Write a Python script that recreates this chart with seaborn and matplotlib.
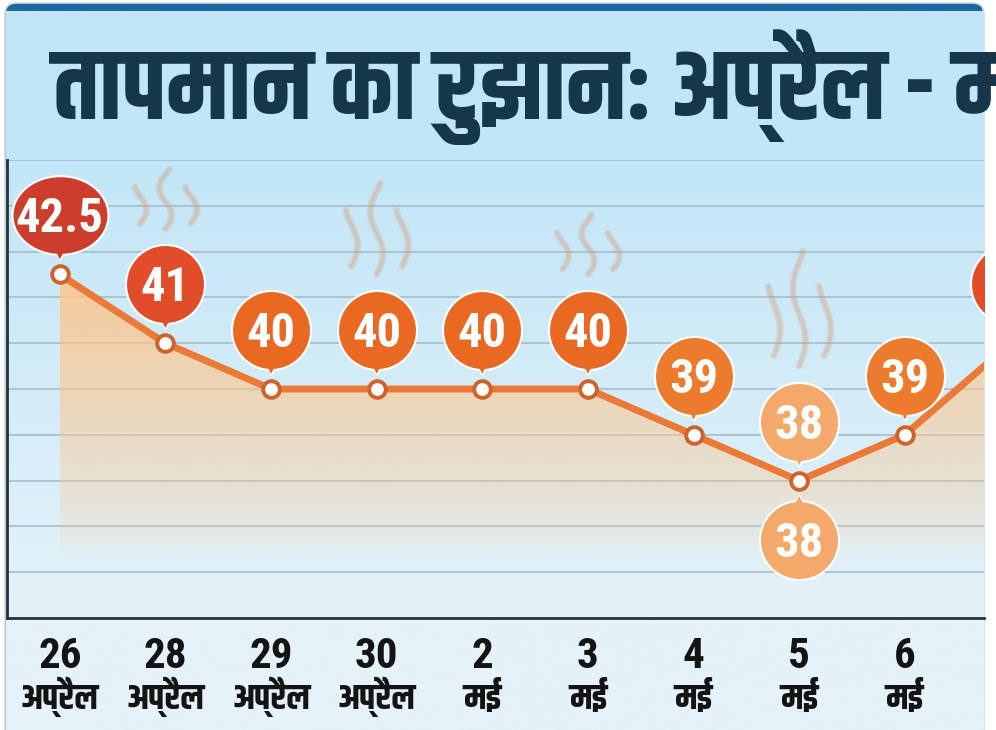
import numpy as np
import pandas as pd
import matplotlib
matplotlib.use("Agg")
import matplotlib.pyplot as plt
import matplotlib.transforms as mtransforms
from matplotlib.patches import FancyBboxPatch
from matplotlib.path import Path
from matplotlib.colors import to_rgb
import seaborn as sns

# data
day_labels = ["26", "28", "29", "30", "2", "3", "4", "5", "6", "7"]
month_labels = ["अप्रैल", "अप्रैल", "अप्रैल", "अप्रैल", "मई", "मई", "मई", "मई", "मई", "मई"]
temps = [42.5, 41, 40, 40, 40, 40, 39, 38, 39, 41]
low_bubble_days = ["5"]          # this day also has a bubble below the point
steam_days = ["28", "30", "3", "5"]
steam_heights = [1.3, 2.0, 1.3, 2.5]
title = "तापमान का रुझान: अप्रैल - मई"

sns.set_theme(style="white")
plt.rcParams["font.family"] = ["Roboto Condensed", "Khand", "DejaVu Sans"]

df = pd.DataFrame({"pos": np.arange(len(temps)), "temp": temps,
                   "day": day_labels, "month": month_labels})

W, H = 996, 730
fig = plt.figure(figsize=(W / 100, H / 100), dpi=100)
fig.patch.set_facecolor("white")

# card background (pixel coordinates)
bg = fig.add_axes([0, 0, 1, 1], zorder=-5)
bg.add_patch(FancyBboxPatch((5, 3), 979, 760, boxstyle="round,pad=0,rounding_size=11",
                            fc="#1f67a2", ec="#d3dce1", lw=1.2, zorder=0))
ys = np.linspace(11, H, 400)
t = np.clip((ys - 160) / (618 - 160), 0, 1)[:, None]
grad = np.array(to_rgb("#c2e6f7")) * (1 - t) + np.array(to_rgb("#e5f2f9")) * t
bg.imshow(grad[:, None, :], extent=(5.6, 983.4, H, 11), aspect="auto", zorder=1)
bg.set_xlim(0, W)
bg.set_ylim(H, 0)
bg.axis("off")
bg.text(53, 119, title, fontsize=72, family=["Khand", "DejaVu Sans"], weight="bold",
        color="#16374b", va="baseline", ha="left", zorder=3)

# main chart
ax = fig.add_axes([7 / W, 1 - 618 / H, (984 - 7) / W, (618 - 160) / H])
ax.patch.set_alpha(0)
ax.set_axisbelow(True)

# gradient fill under the line, fading out towards the bottom
poly = ax.fill_between(df["pos"], df["temp"], 35, facecolor="none", edgecolor="none")
top_v = max(temps)
gy = np.linspace(top_v, 35, 256)
g = np.zeros((256, 1, 4))
g[..., :3] = to_rgb("#ffc68a")
g[:, 0, 3] = np.clip((gy - 36.3) / (top_v - 36.3), 0, 1) ** 0.7 * 0.85
im = ax.imshow(g, extent=(0, len(temps) - 1, 35, top_v), aspect="auto",
               origin="upper", zorder=1)
im.set_clip_path(poly.get_paths()[0], transform=ax.transData)

sns.lineplot(data=df, x="pos", y="temp", ax=ax, color="#ec7a36", linewidth=5,
             marker="o", markersize=12, markerfacecolor="white",
             markeredgecolor="#cf632b", markeredgewidth=2.8, zorder=3)

# steam wisps above some points
for d, h in zip(steam_days, steam_heights):
    i = day_labels.index(d)
    base = temps[i] + 2.5
    for dx, frac in [(-0.24, 0.7), (0.0, 1.0), (0.24, 0.7)]:
        lo = base + h * (1 - frac) * 0.3
        hi = base + h * frac
        yy = np.linspace(lo, hi, 60)
        xx = i + dx + 0.06 * np.sin((yy - lo) / h * 2 * np.pi * 1.1)
        ax.plot(xx, yy, color="#e0a07c", alpha=0.28, lw=5,
                solid_capstyle="round", zorder=2)
        ax.plot(xx, yy, color="#c9a79a", alpha=0.3, lw=2.5,
                solid_capstyle="round", zorder=2)


def bubble_color(v):
    if v >= 42:
        return "#cd3d2b"
    if v >= 41:
        return "#e14d28"
    if v >= 40:
        return "#e96922"
    if v >= 39:
        return "#ec7b2d"
    return "#f4a96a"


theta = np.linspace(0, 2 * np.pi, 120)
ellipse = Path(np.c_[np.cos(theta) * 1.22, np.sin(theta)], closed=True)
x_right = 8.75


def bubble(x, v, side):
    sgn = 1 if side == "up" else -1
    c_tr = mtransforms.offset_copy(ax.transData, fig=fig, y=59 * sgn, units="dots")
    p_tr = mtransforms.offset_copy(ax.transData, fig=fig, y=22 * sgn, units="dots")
    t_tr = mtransforms.offset_copy(ax.transData, fig=fig, y=59 * sgn - 17, units="dots")
    label = f"{v:g}"
    col = bubble_color(v)
    tri = "v" if side == "up" else "^"
    ax.scatter([x], [v], transform=p_tr, marker=tri, s=110, c=col,
               edgecolors="white", linewidths=1.5, zorder=4)
    if len(label) > 2:
        ax.scatter([x], [v], transform=c_tr, marker=ellipse, s=(96 * 0.72) ** 2, c=col,
                   edgecolors="white", linewidths=1.5, zorder=5)
    else:
        ax.scatter([x], [v], transform=c_tr, marker="o", s=(79 * 0.72) ** 2, c=col,
                   edgecolors="white", linewidths=1.5, zorder=5)
    ax.scatter([x], [v], transform=p_tr, marker=tri, s=95, c=col,
               edgecolors="none", zorder=6)
    if x > x_right:
        return  # only the edge of this bubble is in view
    ax.text(x, v, label, transform=t_tr, ha="center", va="baseline", color="white",
            fontsize=35, family=["Roboto Condensed", "DejaVu Sans"], weight="semibold",
            zorder=7, clip_on=True)


for _, r in df.iterrows():
    bubble(r["pos"], r["temp"], "up")
    if r["day"] in low_bubble_days:
        bubble(r["pos"], r["temp"], "down")

ax.set_xlim(-0.5, x_right)
ax.set_ylim(35, 45)
ax.set_yticks(range(35, 46))
ax.grid(axis="y", color="#a3b9c3", lw=1.1)
ax.grid(axis="x", visible=False)
ax.set_xticks([])
ax.set_yticklabels([])
ax.tick_params(left=False, bottom=False)
ax.set_xlabel("")
ax.set_ylabel("")
for s in ["top", "right"]:
    ax.spines[s].set_visible(False)
for s in ["left", "bottom"]:
    ax.spines[s].set_color("#26343a")
    ax.spines[s].set_linewidth(2)

# two-line date labels under the axis
base_tr = mtransforms.blended_transform_factory(ax.transData, ax.transAxes)
day_tr = mtransforms.offset_copy(base_tr, fig=fig, y=-50, units="dots")
mon_tr = mtransforms.offset_copy(base_tr, fig=fig, y=-91, units="dots")
for _, r in df.iterrows():
    if r["pos"] > x_right:
        continue
    ax.text(r["pos"], 0, r["day"], transform=day_tr, ha="center", va="baseline",
            fontsize=31, weight="bold", color="#141414",
            family=["Roboto Condensed", "DejaVu Sans"])
    ax.text(r["pos"], 0, r["month"], transform=mon_tr, ha="center", va="baseline",
            fontsize=26, weight="bold", color="#141414", family=["Khand", "DejaVu Sans"])

fig.savefig("out.png", dpi=100)
